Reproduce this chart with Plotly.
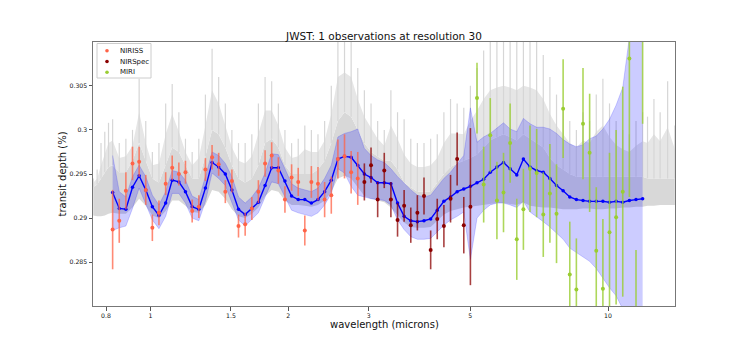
import plotly.graph_objects as go

# binned wavelength grid (microns), R = 30
wl = [0.827, 0.855, 0.884, 0.914, 0.945, 0.977, 1.010, 1.044, 1.080, 1.116,
      1.154, 1.193, 1.234, 1.276, 1.319, 1.364, 1.410, 1.458, 1.507, 1.558,
      1.611, 1.666, 1.722, 1.781, 1.841, 1.904, 1.968, 2.035, 2.104, 2.175,
      2.248, 2.324, 2.403, 2.485, 2.569, 2.656, 2.746, 2.839, 2.935, 3.035,
      3.138, 3.244, 3.354, 3.468, 3.585, 3.707, 3.832, 3.962, 4.097, 4.235,
      4.379, 4.528, 4.681, 4.840, 5.004, 5.173, 5.349, 5.530, 5.718, 5.911,
      6.111, 6.319, 6.533, 6.754, 6.983, 7.220, 7.465, 7.718, 7.979, 8.250,
      8.529, 8.818, 9.117, 9.426, 9.746, 10.076, 10.417, 10.770, 11.135, 11.513,
      11.903]

# binned model transit depth (%) and its spread
model = [0.2929, 0.2911, 0.2910, 0.2935, 0.2948, 0.2932, 0.2913, 0.2903, 0.2917, 0.2943,
         0.2941, 0.2930, 0.2913, 0.2910, 0.2934, 0.2963, 0.2958, 0.2950, 0.2932, 0.2910,
         0.2904, 0.2911, 0.2918, 0.2937, 0.2957, 0.2957, 0.2942, 0.2925, 0.2921, 0.2921,
         0.2917, 0.2921, 0.2930, 0.2943, 0.2967, 0.2970, 0.2969, 0.2960, 0.2950, 0.2946,
         0.2940, 0.2940, 0.2939, 0.2917, 0.2902, 0.2897, 0.2896, 0.2897, 0.2899, 0.2909,
         0.2919, 0.2924, 0.2930, 0.2933, 0.2936, 0.2940, 0.2944, 0.2952, 0.2958, 0.2963,
         0.2956, 0.2949, 0.2967, 0.2958, 0.2954, 0.2952, 0.2945, 0.2937, 0.2931, 0.2924,
         0.2921, 0.2920, 0.2919, 0.2919, 0.2919, 0.2918, 0.2919, 0.2918, 0.2920, 0.2921,
         0.2922]
model_hi = [0.2971, 0.2930, 0.2924, 0.2947, 0.2960, 0.2947, 0.2926, 0.2915, 0.2930, 0.2954,
            0.2952, 0.2943, 0.2925, 0.2921, 0.2947, 0.2975, 0.2971, 0.2962, 0.2947, 0.2924,
            0.2917, 0.2924, 0.2934, 0.2951, 0.2973, 0.2972, 0.2956, 0.2939, 0.2934, 0.2932,
            0.2930, 0.2934, 0.2945, 0.2960, 0.2992, 0.2996, 0.2998, 0.3001, 0.2979, 0.2971,
            0.2966, 0.2963, 0.2956, 0.2947, 0.2939, 0.2932, 0.2926, 0.2924, 0.2926, 0.2936,
            0.2945, 0.2952, 0.2962, 0.2971, 0.3025, 0.2986, 0.2992, 0.2996, 0.3002, 0.3008,
            0.3001, 0.2998, 0.3013, 0.3007, 0.3003, 0.3003, 0.3001, 0.2996, 0.2989, 0.2984,
            0.2981, 0.2983, 0.2990, 0.2993, 0.3001, 0.3012, 0.3028, 0.3048, 0.3105, 0.3180,
            0.3220]
model_lo = [0.2886, 0.2889, 0.2891, 0.2911, 0.2934, 0.2917, 0.2898, 0.2888, 0.2902, 0.2928,
            0.2928, 0.2917, 0.2900, 0.2897, 0.2919, 0.2951, 0.2945, 0.2937, 0.2917, 0.2898,
            0.2891, 0.2898, 0.2906, 0.2924, 0.2941, 0.2939, 0.2924, 0.2909, 0.2906, 0.2904,
            0.2902, 0.2906, 0.2915, 0.2928, 0.2956, 0.2951, 0.2936, 0.2926, 0.2924, 0.2922,
            0.2921, 0.2920, 0.2915, 0.2898, 0.2887, 0.2879, 0.2876, 0.2876, 0.2877, 0.2885,
            0.2892, 0.2898, 0.2902, 0.2907, 0.2853, 0.2900, 0.2909, 0.2915, 0.2917, 0.2917,
            0.2915, 0.2912, 0.2919, 0.2907, 0.2902, 0.2896, 0.2890, 0.2883, 0.2876, 0.2866,
            0.2861, 0.2857, 0.2851, 0.2843, 0.2832, 0.2821, 0.2812, 0.2797, 0.2775, 0.2750,
            0.2730]

# simulated observations, one per bin
niriss_depth = [0.2887, 0.2897, 0.2931, 0.2962, 0.2964, 0.2932, 0.2889, 0.2906, 0.2939, 0.2957,
                0.2950, 0.2952, 0.2908, 0.2913, 0.2955, 0.2969, 0.2961, 0.2930, 0.2942, 0.2891,
                0.2893, 0.2911, 0.2930, 0.2962, 0.2971, 0.2954, 0.2921, 0.2946, 0.2941, 0.2886,
                0.2941, 0.2939, 0.2921, 0.2926, 0.2967, 0.2970, 0.2952, 0.2945]
niriss_err = [0.0045, 0.0025, 0.0021, 0.0019, 0.0017, 0.0017, 0.0015, 0.0014, 0.0013, 0.0014,
              0.0013, 0.0013, 0.0013, 0.0013, 0.0013, 0.0014, 0.0013, 0.0013, 0.0013, 0.0013,
              0.0013, 0.0013, 0.0013, 0.0015, 0.0015, 0.0015, 0.0015, 0.0015, 0.0016, 0.0017,
              0.0018, 0.0019, 0.0020, 0.0021, 0.0022, 0.0025, 0.0024, 0.0030]
nirspec_depth = [0.2941, 0.2960, 0.2921, 0.2954, 0.2921, 0.2898, 0.2914, 0.2892, 0.2906, 0.2925,
                 0.2864, 0.2899, 0.2891, 0.2922, 0.2967, 0.2892, 0.2913]
nirspec_err = [0.0021, 0.0020, 0.0020, 0.0020, 0.0020, 0.0019, 0.0018, 0.0020, 0.0020, 0.0021,
               0.0022, 0.0023, 0.0024, 0.0027, 0.0030, 0.0032, 0.0089]
miri_depth = [0.3036, 0.2938, 0.2994, 0.2920, 0.2929, 0.2985, 0.2876, 0.2910, 0.2956, 0.2951,
              0.2904, 0.2928, 0.2905, 0.3024, 0.2836, 0.2819, 0.3007, 0.2974, 0.2863, 0.2820,
              0.2884, 0.2901, 0.2930, 0.3081, 0.2725, 0.3160]
miri_err = [0.0040, 0.0043, 0.0042, 0.0044, 0.0045, 0.0045, 0.0046, 0.0046, 0.0049, 0.0050,
            0.0048, 0.0056, 0.0056, 0.0056, 0.0060, 0.0058, 0.0063, 0.0067, 0.0072, 0.0079,
            0.0090, 0.0099, 0.0119, 0.0157, 0.0139, 0.0153]

# high resolution model spectrum: floor, dense top, semi-dense top, spike tips
gray_wl = [0.75, 0.765, 0.78, 0.795, 0.81] + wl + [12.2, 12.6, 13.0, 13.5, 14.0]
gray_lo = [0.2903, 0.2902, 0.2902, 0.2903, 0.2905,
           0.2906, 0.2905, 0.2905, 0.2912, 0.2922, 0.2914, 0.2903, 0.2900, 0.2908, 0.2920,
           0.2920, 0.2914, 0.2907, 0.2906, 0.2915, 0.2932, 0.2930, 0.2922, 0.2910, 0.2902,
           0.2900, 0.2905, 0.2912, 0.2925, 0.2932, 0.2930, 0.2920, 0.2915, 0.2915, 0.2914,
           0.2913, 0.2915, 0.2920, 0.2930, 0.2945, 0.2948, 0.2945, 0.2935, 0.2925, 0.2922,
           0.2920, 0.2918, 0.2912, 0.2903, 0.2895, 0.2890, 0.2889, 0.2889, 0.2890, 0.2897,
           0.2904, 0.2908, 0.2910, 0.2912, 0.2913, 0.2914, 0.2915, 0.2916, 0.2917, 0.2917,
           0.2916, 0.2915, 0.2918, 0.2914, 0.2913, 0.2912, 0.2912, 0.2911, 0.2910, 0.2910,
           0.2910, 0.2911, 0.2911, 0.2910, 0.2910, 0.2911, 0.2911, 0.2912, 0.2912, 0.2913,
           0.2913,
           0.2914, 0.2914, 0.2915, 0.2915, 0.2915]
gray_core = [0.2935, 0.2938, 0.2945, 0.2952, 0.2958,
             0.2960, 0.2952, 0.2952, 0.2965, 0.2985, 0.2965, 0.2945, 0.2940, 0.2960, 0.2980,
             0.2975, 0.2960, 0.2945, 0.2945, 0.2970, 0.3000, 0.2995, 0.2980, 0.2960, 0.2945,
             0.2940, 0.2945, 0.2960, 0.2985, 0.2990, 0.2980, 0.2960, 0.2950, 0.2950, 0.2950,
             0.2950, 0.2955, 0.2965, 0.2985, 0.3010, 0.3020, 0.3015, 0.3000, 0.2985, 0.2975,
             0.2970, 0.2965, 0.2965, 0.2955, 0.2940, 0.2935, 0.2930, 0.2930, 0.2930, 0.2940,
             0.2950, 0.2958, 0.2962, 0.2965, 0.2968, 0.2972, 0.2980, 0.2988, 0.2992, 0.2995,
             0.2992, 0.2988, 0.2995, 0.2990, 0.2985, 0.2980, 0.2968, 0.2960, 0.2955, 0.2950,
             0.2947, 0.2947, 0.2947, 0.2947, 0.2947, 0.2947, 0.2947, 0.2947, 0.2947, 0.2947,
             0.2947,
             0.2945, 0.2945, 0.2945, 0.2945, 0.2945]
gray_mid = [0.2940, 0.2945, 0.2960, 0.2972, 0.2985,
            0.2988, 0.2968, 0.2970, 0.2982, 0.3020, 0.2985, 0.2960, 0.2962, 0.2995, 0.3018,
            0.2998, 0.2975, 0.2960, 0.2968, 0.3005, 0.3045, 0.3030, 0.3005, 0.2980, 0.2965,
            0.2962, 0.2970, 0.2995, 0.3022, 0.3022, 0.3005, 0.2980, 0.2968, 0.2970, 0.2978,
            0.2975, 0.2975, 0.2988, 0.3018, 0.3060, 0.3065, 0.3060, 0.3035, 0.3015, 0.3002,
            0.2990, 0.2982, 0.3005, 0.2990, 0.2972, 0.2962, 0.2958, 0.2958, 0.2960, 0.2968,
            0.2985, 0.2996, 0.2996, 0.2995, 0.3010, 0.3022, 0.3035, 0.3045, 0.3048, 0.3050,
            0.3048, 0.3045, 0.3050, 0.3048, 0.3045, 0.3035, 0.3018, 0.3005, 0.2995, 0.2985,
            0.2980, 0.2988, 0.2985, 0.2998, 0.3005, 0.2992, 0.2983, 0.2978, 0.2975, 0.2982,
            0.2987,
            0.2985, 0.2995, 0.2987, 0.3003, 0.2978]
gray_top = [0.2945, 0.2955, 0.2985, 0.2998, 0.3008,
            0.3012, 0.2985, 0.2990, 0.3000, 0.3058, 0.3010, 0.2975, 0.2985, 0.3030, 0.3052,
            0.3020, 0.2990, 0.2975, 0.2990, 0.3040, 0.3092, 0.3060, 0.3030, 0.3000, 0.2985,
            0.2985, 0.2995, 0.3030, 0.3060, 0.3055, 0.3030, 0.3000, 0.2985, 0.2990, 0.3005,
            0.3000, 0.2995, 0.3010, 0.3050, 0.3105, 0.3105, 0.3105, 0.3070, 0.3045, 0.3030,
            0.3010, 0.3000, 0.3045, 0.3020, 0.3012, 0.2990, 0.2985, 0.2985, 0.2990, 0.2995,
            0.3020, 0.3035, 0.3030, 0.3025, 0.3050, 0.3070, 0.3090, 0.3105, 0.3105, 0.3105,
            0.3105, 0.3105, 0.3105, 0.3105, 0.3105, 0.3085, 0.3060, 0.3040, 0.3025, 0.3010,
            0.3000, 0.3020, 0.3010, 0.3040, 0.3058, 0.3030, 0.3010, 0.3000, 0.2995, 0.3010,
            0.3020,
            0.3015, 0.3035, 0.3020, 0.3055, 0.3005]

xtick_vals = [0.8, 1, 1.5, 2, 3, 5, 10]
xtick_text = ["0.8", "1", "1.5", "2", "3", "5", "10"]
ytick_vals = [0.285, 0.29, 0.295, 0.3, 0.305]
ytick_text = ["0.285", "0.29", "0.295", "0.3", "0.305"]

instruments = ["NIRISS", "NIRSpec", "MIRI"]
inst_colors = ["tomato", "darkred", "yellowgreen"]
inst_bar_colors = ["rgba(255,99,71,0.75)", "rgba(139,0,0,0.75)", "rgba(154,205,50,0.8)"]

n_niriss = len(niriss_depth)
n_nirspec = len(nirspec_depth)
niriss_wl = wl[:n_niriss]
nirspec_wl = wl[n_niriss:n_niriss + n_nirspec]
miri_wl = wl[n_niriss + n_nirspec:]

FONT = "DejaVu Sans"
TXT = "#111"
# the page body adds an 8px margin on each side, so the figure is 16px smaller
W, H = 734, 334
ML, MT, PW, PH = 85, 34, 582, 264

fig = go.Figure()

# gray high-res spectrum
fig.add_trace(go.Scatter(x=gray_wl, y=gray_lo, mode="lines", line=dict(width=0),
                         showlegend=False, hoverinfo="skip"))
fig.add_trace(go.Scatter(x=gray_wl, y=gray_core, mode="lines", line=dict(width=0),
                         fill="tonexty", fillcolor="#d8d8d8", showlegend=False, hoverinfo="skip"))
fig.add_trace(go.Scatter(x=gray_wl, y=gray_mid, mode="lines", line=dict(width=0),
                         fill="tonexty", fillcolor="#e6e6e6", showlegend=False, hoverinfo="skip"))
spike_x, spike_y = [], []
for w, c, t in zip(gray_wl, gray_core, gray_top):
    spike_x += [w, w, None]
    spike_y += [c, t, None]
fig.add_trace(go.Scatter(x=spike_x, y=spike_y, mode="lines",
                         line=dict(color="#d6d6d6", width=1.2),
                         showlegend=False, hoverinfo="skip"))

# model spread
fig.add_trace(go.Scatter(x=wl, y=model_hi, mode="lines",
                         line=dict(color="rgba(0,0,255,0.3)", width=0.6),
                         showlegend=False, hoverinfo="skip"))
fig.add_trace(go.Scatter(x=wl, y=model_lo, mode="lines",
                         line=dict(color="rgba(0,0,255,0.3)", width=0.6),
                         fill="tonexty", fillcolor="rgba(0,0,255,0.2)",
                         showlegend=False, hoverinfo="skip"))

# binned model
fig.add_trace(go.Scatter(x=wl, y=model, mode="lines+markers",
                         line=dict(color="blue", width=1.4),
                         marker=dict(color="blue", size=3.5),
                         showlegend=False))

# instruments
inst_data = [(niriss_wl, niriss_depth, niriss_err),
             (nirspec_wl, nirspec_depth, nirspec_err),
             (miri_wl, miri_depth, miri_err)]
for name, (xs, ys, es), col, bar in zip(instruments, inst_data, inst_colors, inst_bar_colors):
    fig.add_trace(go.Scatter(x=xs, y=ys, mode="markers", name=name, showlegend=False,
                             marker=dict(color=col, size=4),
                             error_y=dict(type="data", array=es, color=bar,
                                          thickness=1.6, width=0)))

# legend box drawn in the upper-left corner, matplotlib style
def px_x(px):
    return (px - 93) / PW

def px_y(py):
    return (306 - py) / PH

fig.add_shape(type="rect", xref="paper", yref="paper",
              x0=px_x(97), x1=px_x(151), y0=px_y(78), y1=px_y(43.5),
              line=dict(color="#cccccc", width=1), fillcolor="rgba(255,255,255,0.85)", layer="above")
for k, (name, col) in enumerate(zip(instruments, inst_colors)):
    cy = px_y(50.7 + 10.8 * k)
    fig.add_shape(type="circle", xref="paper", yref="paper",
                  x0=px_x(105.2), x1=px_x(108.8), y0=cy - 1.8 / PH, y1=cy + 1.8 / PH,
                  line=dict(width=0), fillcolor=col, layer="above")
    fig.add_annotation(text=name, x=px_x(118), y=cy, xref="paper", yref="paper",
                       xanchor="left", yanchor="middle", showarrow=False,
                       font=dict(size=7, color=TXT))

fig.update_layout(
    width=W, height=H,
    margin=dict(l=ML, r=W - ML - PW, t=MT, b=H - MT - PH),
    paper_bgcolor="white", plot_bgcolor="white",
    font=dict(family=FONT, color=TXT),
    title=dict(text="JWST: 1 observations at resolution 30", x=0.5, xref="paper",
               y=1 - 28 / H, yref="container", yanchor="middle",
               font=dict(size=10.5, color=TXT)),
    showlegend=False,
)
fig.update_xaxes(type="log", range=[-0.1254, 1.1464], tickvals=xtick_vals, ticktext=xtick_text,
                 ticks="outside", ticklen=3.5, tickcolor="#555",
                 tickfont=dict(size=6.2, color=TXT),
                 showgrid=False, zeroline=False, showline=True, mirror=True,
                 linecolor="#777", linewidth=1)
fig.update_yaxes(range=[0.28004, 0.30996], tickvals=ytick_vals, ticktext=ytick_text,
                 ticks="outside", ticklen=3.5, tickcolor="#555",
                 tickfont=dict(size=6.2, color=TXT),
                 showgrid=False, zeroline=False, showline=True, mirror=True,
                 linecolor="#777", linewidth=1)
fig.add_annotation(text="wavelength (microns)", x=0.5, y=px_y(324.5),
                   xref="paper", yref="paper", showarrow=False, yanchor="middle",
                   font=dict(size=10, color=TXT))
fig.add_annotation(text="transit depth (%)", x=px_x(61.5), y=0.5,
                   xref="paper", yref="paper", showarrow=False, textangle=-90,
                   xanchor="center", yanchor="middle", font=dict(size=10, color=TXT))

fig.write_html("out.html")
